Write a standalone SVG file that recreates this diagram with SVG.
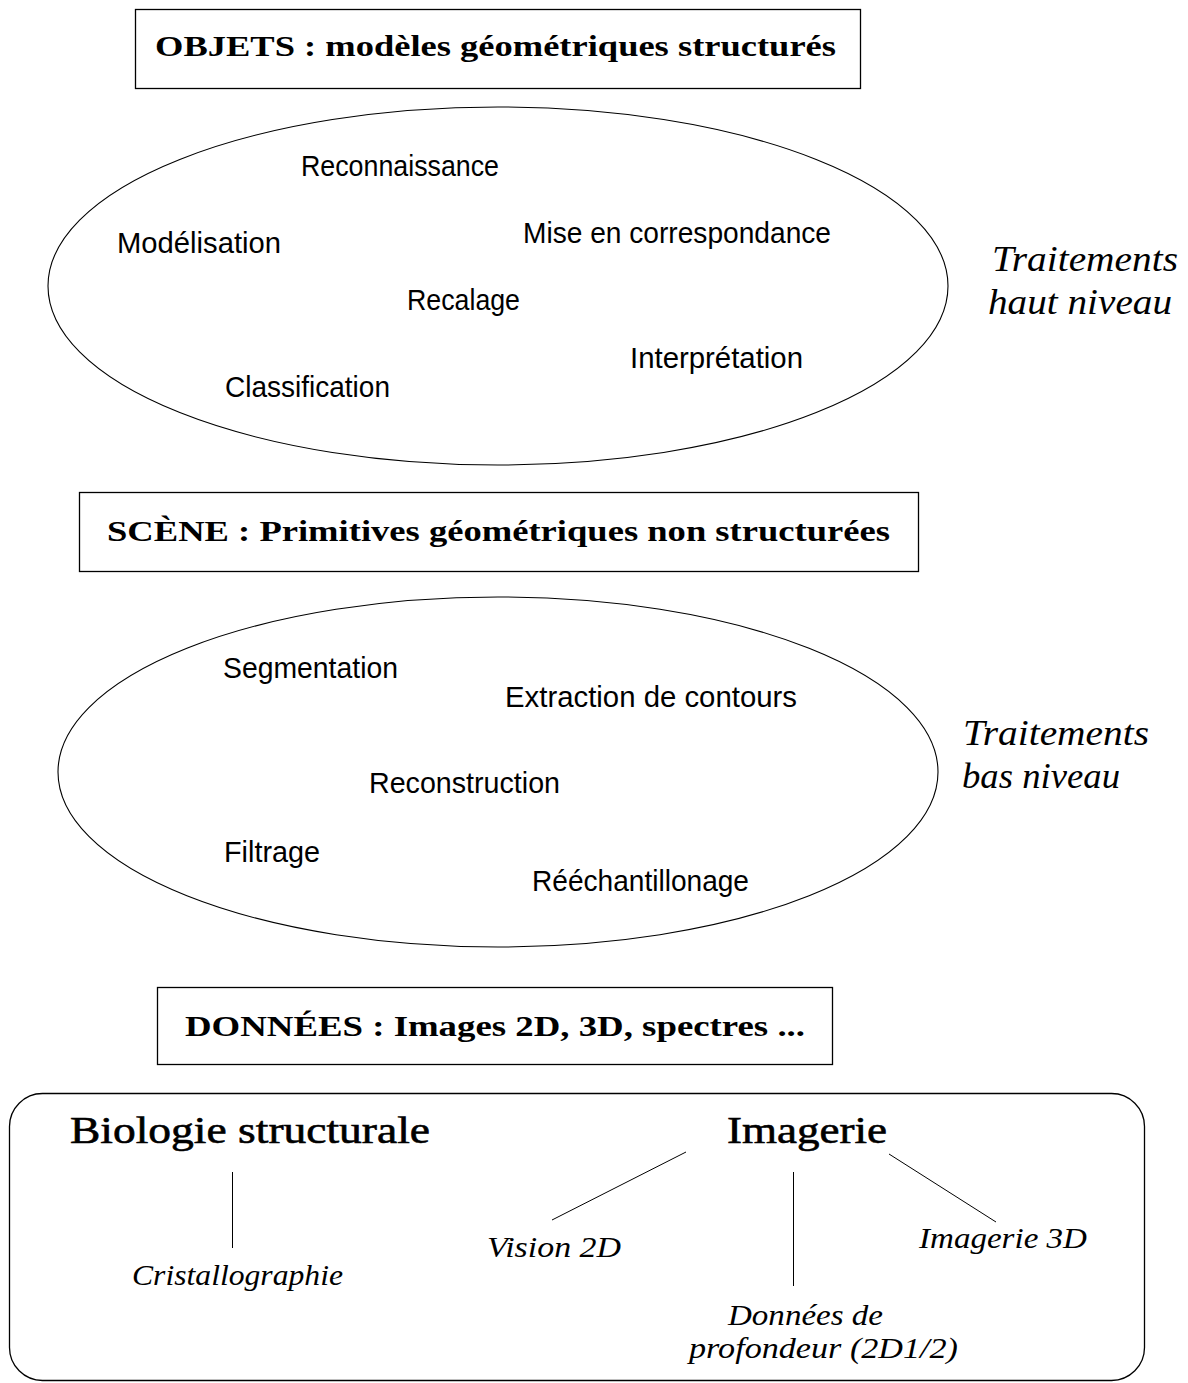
<svg xmlns="http://www.w3.org/2000/svg" width="1188" height="1383" viewBox="0 0 1188 1383">
<style>
.box{fill:none;stroke:#000;stroke-width:1.3}
.ell{fill:none;stroke:#000;stroke-width:1.1}
.hdr{font-family:"Liberation Serif",serif;font-weight:bold;font-size:29px}
.sans{font-family:"Liberation Sans",sans-serif;font-size:29px}
.it{font-family:"Liberation Serif",serif;font-style:italic;font-size:36px}
.itb{font-family:"Liberation Serif",serif;font-style:italic;font-size:30px}
.big{font-family:"Liberation Serif",serif;font-size:37px;stroke:#000;stroke-width:0.6}
.ln{stroke:#000;stroke-width:1;fill:none}
text{fill:#000}
</style>
<rect width="1188" height="1383" fill="#fff"/>
<g id="objets">
<rect class="box" x="135.5" y="9.5" width="725" height="79"/>
<text class="hdr" x="155" y="56" textLength="681" lengthAdjust="spacingAndGlyphs">OBJETS : modèles géométriques structurés</text>
</g>
<g id="haut-niveau">
<ellipse class="ell" cx="498" cy="286" rx="450" ry="179"/>
<text class="sans" x="301" y="176" textLength="198" lengthAdjust="spacingAndGlyphs">Reconnaissance</text>
<text class="sans" x="117" y="253" textLength="164" lengthAdjust="spacingAndGlyphs">Modélisation</text>
<text class="sans" x="523" y="243" textLength="308" lengthAdjust="spacingAndGlyphs">Mise en correspondance</text>
<text class="sans" x="407" y="310" textLength="113" lengthAdjust="spacingAndGlyphs">Recalage</text>
<text class="sans" x="630" y="368" textLength="173" lengthAdjust="spacingAndGlyphs">Interprétation</text>
<text class="sans" x="225" y="397" textLength="165" lengthAdjust="spacingAndGlyphs">Classification</text>
</g>
<g id="label-haut">
<text class="it" x="992" y="271" textLength="186" lengthAdjust="spacingAndGlyphs">Traitements</text>
<text class="it" x="988" y="314" textLength="184" lengthAdjust="spacingAndGlyphs">haut niveau</text>
</g>
<g id="scene">
<rect class="box" x="79.5" y="492.5" width="839" height="79"/>
<text class="hdr" x="107" y="541" textLength="783" lengthAdjust="spacingAndGlyphs">SCÈNE : Primitives géométriques non structurées</text>
</g>
<g id="bas-niveau">
<ellipse class="ell" cx="498" cy="772" rx="440" ry="175"/>
<text class="sans" x="223" y="678" textLength="175" lengthAdjust="spacingAndGlyphs">Segmentation</text>
<text class="sans" x="505" y="707" textLength="292" lengthAdjust="spacingAndGlyphs">Extraction de contours</text>
<text class="sans" x="369" y="793" textLength="191" lengthAdjust="spacingAndGlyphs">Reconstruction</text>
<text class="sans" x="224" y="862" textLength="96" lengthAdjust="spacingAndGlyphs">Filtrage</text>
<text class="sans" x="532" y="891" textLength="217" lengthAdjust="spacingAndGlyphs">Rééchantillonage</text>
</g>
<g id="label-bas">
<text class="it" x="963" y="745" textLength="186" lengthAdjust="spacingAndGlyphs">Traitements</text>
<text class="it" x="962" y="788" textLength="158" lengthAdjust="spacingAndGlyphs">bas niveau</text>
</g>
<g id="donnees">
<rect class="box" x="157.5" y="987.5" width="675" height="77"/>
<text class="hdr" x="185" y="1036" textLength="620" lengthAdjust="spacingAndGlyphs">DONNÉES : Images 2D, 3D, spectres ...</text>
</g>
<g id="domaines">
<rect class="box" x="9.5" y="1093.5" width="1135" height="287" rx="33" ry="33"/>
</g>
<g id="biologie">
<text class="big" x="70" y="1143" textLength="360" lengthAdjust="spacingAndGlyphs">Biologie structurale</text>
</g>
<g id="imagerie">
<text class="big" x="727" y="1143" textLength="160" lengthAdjust="spacingAndGlyphs">Imagerie</text>
</g>
<g id="cristallographie">
<text class="itb" x="132" y="1285" textLength="211" lengthAdjust="spacingAndGlyphs">Cristallographie</text>
</g>
<g id="vision2d">
<text class="itb" x="487" y="1257" textLength="134" lengthAdjust="spacingAndGlyphs">Vision 2D</text>
</g>
<g id="imagerie3d">
<text class="itb" x="919" y="1248" textLength="168" lengthAdjust="spacingAndGlyphs">Imagerie 3D</text>
</g>
<g id="profondeur">
<text class="itb" x="728" y="1325" textLength="155" lengthAdjust="spacingAndGlyphs">Données de</text>
<text class="itb" x="689" y="1358" textLength="269" lengthAdjust="spacingAndGlyphs">profondeur (2D1/2)</text>
</g>
<g id="connectors">
<line class="ln" x1="232.5" y1="1172" x2="232.5" y2="1248"/>
<line class="ln" x1="686" y1="1152" x2="552" y2="1220"/>
<line class="ln" x1="793.5" y1="1172" x2="793.5" y2="1286"/>
<line class="ln" x1="889" y1="1154" x2="996" y2="1222"/>
</g>
</svg>
